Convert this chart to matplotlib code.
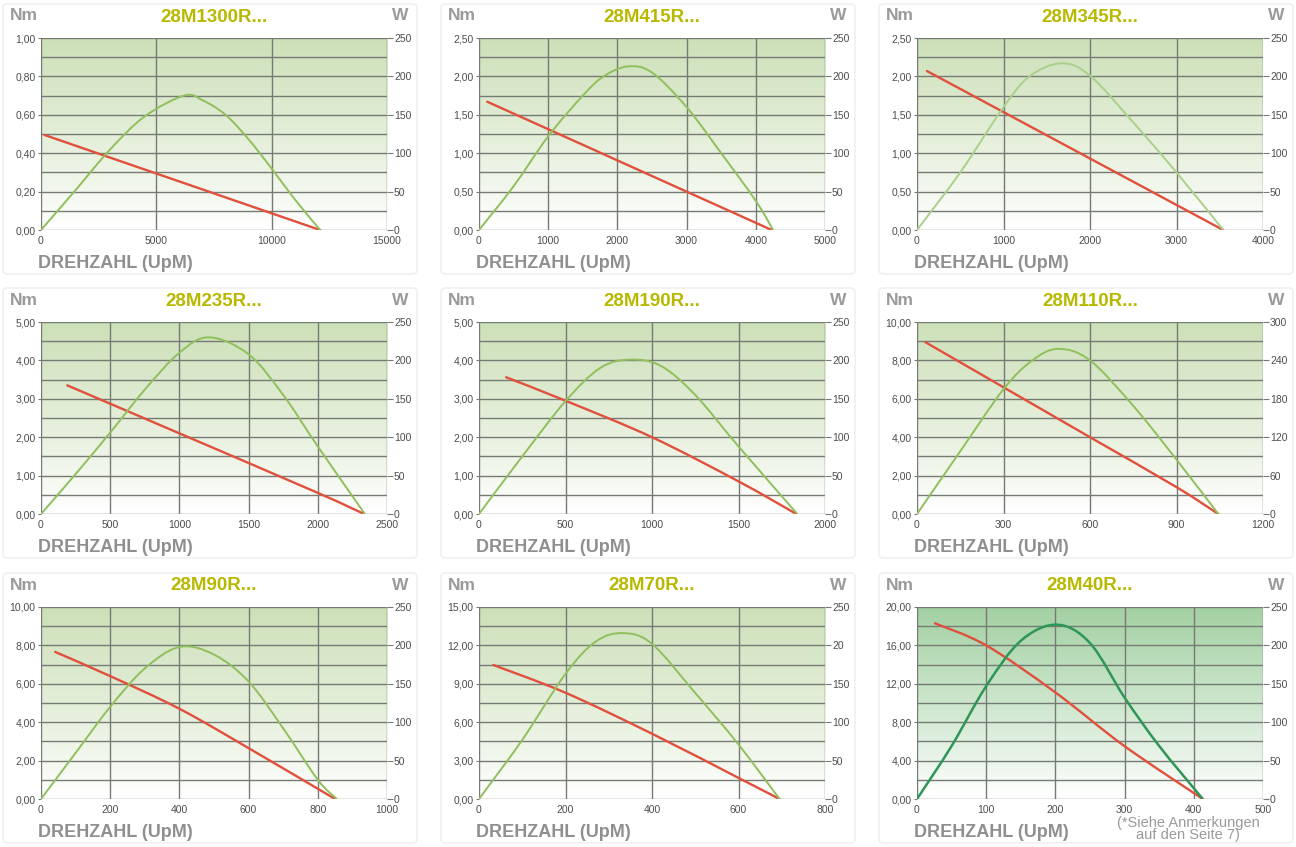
import numpy as np
import matplotlib
matplotlib.use("Agg")
import matplotlib.pyplot as plt
from matplotlib.patches import FancyBboxPatch, PathPatch
from matplotlib.path import Path
from matplotlib.colors import to_rgb

plt.rcParams['font.family'] = ['Liberation Sans', 'DejaVu Sans']

# ---------------- data ----------------
titles = ["28M1300R...", "28M415R...", "28M345R...",
          "28M235R...", "28M190R...", "28M110R...",
          "28M90R...", "28M70R...", "28M40R..."]

# x axis (rpm) limits and tick steps
x_max = [15000, 5000, 4000, 2500, 2000, 1200, 1000, 800, 500]
x_step = [5000, 1000, 1000, 500, 500, 300, 200, 200, 100]
# torque axis (Nm)
nm_max = [1.0, 2.5, 2.5, 5.0, 5.0, 10.0, 10.0, 15.0, 20.0]
nm_step = [0.2, 0.5, 0.5, 1.0, 1.0, 2.0, 2.0, 3.0, 4.0]
# power axis (W)
w_max = [250, 250, 250, 250, 250, 300, 250, 250, 250]
w_step = [50, 50, 50, 50, 50, 60, 50, 50, 50]
# right tick labels for 28M70R as printed in the source (note "20")
m70_w_labels = ["0", "50", "100", "150", "20", "250"]

# torque curves (rpm, Nm)
m1300_t_rpm = [150, 12100]
m1300_t_nm = [0.495, 0.0]
m415_t_rpm = [120, 4230]
m415_t_nm = [1.67, 0.0]
m345_t_rpm = [115, 3540]
m345_t_nm = [2.07, 0.0]
m235_t_rpm = [190, 1000, 2000, 2335]
m235_t_nm = [3.35, 2.10, 0.55, 0.0]
m190_t_rpm = [157, 500, 1000, 1500, 1835]
m190_t_nm = [3.56, 2.95, 2.00, 0.85, 0.0]
m110_t_rpm = [29, 300, 600, 900, 1045]
m110_t_nm = [8.95, 6.60, 4.00, 1.40, 0.0]
m90_t_rpm = [41, 200, 400, 600, 850]
m90_t_nm = [7.66, 6.40, 4.70, 2.65, 0.0]
m70_t_rpm = [33, 200, 400, 600, 695]
m70_t_nm = [10.47, 8.30, 5.10, 1.65, 0.0]
m40_t_rpm = [26, 100, 200, 300, 413]
m40_t_nm = [18.3, 16.0, 11.1, 5.5, 0.0]

# power curves (rpm, W)
m1300_p_rpm = [0, 1500, 3000, 4500, 6200, 7000, 8000, 9000, 10000, 11000, 12100]
m1300_p_w = [0, 52, 105, 148, 175, 169, 150, 118, 80, 40, 0]
m415_p_rpm = [0, 500, 1000, 1500, 1800, 2150, 2500, 3000, 3500, 4000, 4250]
m415_p_w = [0, 57, 122, 175, 200, 213, 205, 160, 100, 38, 0]
m345_p_rpm = [0, 500, 1000, 1300, 1670, 2000, 2500, 3000, 3540]
m345_p_w = [0, 75, 160, 200, 217, 201, 140, 75, 0]
m235_p_rpm = [0, 250, 500, 750, 1000, 1215, 1500, 1750, 2000, 2340]
m235_p_w = [0, 52, 106, 162, 210, 230, 208, 155, 88, 0]
m190_p_rpm = [0, 250, 500, 700, 870, 1050, 1250, 1500, 1840]
m190_p_w = [0, 75, 147, 190, 201, 193, 155, 88, 0]
m110_p_rpm = [0, 150, 300, 400, 490, 600, 750, 900, 1045]
m110_p_w = [0, 98, 195, 240, 258, 240, 169, 85, 0]
m90_p_rpm = [0, 100, 200, 300, 401, 500, 600, 700, 800, 855]
m90_p_w = [0, 60, 120, 170, 198, 188, 153, 92, 25, 0]
m70_p_rpm = [0, 100, 200, 270, 333, 400, 500, 600, 695]
m70_p_w = [0, 77, 163, 205, 216, 202, 138, 71, 0]
m40_p_rpm = [0, 50, 100, 150, 202, 250, 300, 350, 413]
m40_p_w = [0, 69, 147, 206, 227, 203, 132, 69, 0]

torque_rpm = [m1300_t_rpm, m415_t_rpm, m345_t_rpm, m235_t_rpm, m190_t_rpm,
              m110_t_rpm, m90_t_rpm, m70_t_rpm, m40_t_rpm]
torque_nm = [m1300_t_nm, m415_t_nm, m345_t_nm, m235_t_nm, m190_t_nm,
             m110_t_nm, m90_t_nm, m70_t_nm, m40_t_nm]
power_rpm = [m1300_p_rpm, m415_p_rpm, m345_p_rpm, m235_p_rpm, m190_p_rpm,
             m110_p_rpm, m90_p_rpm, m70_p_rpm, m40_p_rpm]
power_w = [m1300_p_w, m415_p_w, m345_p_w, m235_p_w, m190_p_w,
           m110_p_w, m90_p_w, m70_p_w, m40_p_w]

# ---------------- styling ----------------
W_PX, H_PX = 1296, 847
col_left = [41, 479, 917]
row_top = [38, 322, 607]
ax_w, ax_h = 346, 192

green_line = ['#90bf5c'] * 9
green_line[2] = '#a9d08a'
green_line[8] = '#2e9656'
bg_top = ['#cce0b8'] * 9
bg_top[8] = '#a3d1a3'
red_line = '#e0503c'
grid_col = '#767a74'
tick_col = '#4d4d4d'
title_col = '#b9b800'
label_col = '#9a9a9a'

fig = plt.figure(figsize=(W_PX / 100, H_PX / 100), dpi=100)
fig.patch.set_facecolor('white')


def px_rect(l, t, w, h):
    return [l / W_PX, 1 - (t + h) / H_PX, w / W_PX, h / H_PX]


def nm_fmt(v):
    return f"{v:.2f}".replace('.', ',')


def smooth_path(xs, ys):
    """Smooth Bezier path through the given read points (Catmull-Rom style)."""
    p = np.column_stack([xs, ys]).astype(float)
    n = len(p)
    if n < 3:
        return Path(p)
    verts = [p[0]]
    codes = [Path.MOVETO]
    for k in range(n - 1):
        p0 = p[k - 1] if k > 0 else p[k]
        p1, p2 = p[k], p[k + 1]
        p3 = p[k + 2] if k + 2 < n else p[k + 1]
        c1 = p1 + (p2 - p0) / 6.0
        c2 = p2 - (p3 - p1) / 6.0
        verts += [c1, c2, p2]
        codes += [Path.CURVE4] * 3
    return Path(np.array(verts), codes)


# faint panel frames
for r in range(3):
    for c in range(3):
        l = col_left[c] - 38
        t = row_top[r] - 36
        box = FancyBboxPatch((l / W_PX, 1 - (t + 272) / H_PX), 414 / W_PX, 270 / H_PX,
                             boxstyle="round,pad=0,rounding_size=0.004",
                             transform=fig.transFigure, facecolor='none',
                             edgecolor='#f0f0f0', lw=1.2, zorder=0)
        fig.patches.append(box)

for i in range(9):
    r, c = divmod(i, 3)
    left, top = col_left[c], row_top[r]
    ax = fig.add_axes(px_rect(left, top, ax_w, ax_h))
    xm, ym, wm = x_max[i], nm_max[i], w_max[i]

    # gradient background
    n = 256
    frac = np.linspace(0, 1, n)[:, None]  # 0 bottom -> 1 top
    weight = np.clip((frac - 0.03) / 0.97, 0, 1) ** 0.85
    top_rgb = np.array(to_rgb(bg_top[i]))
    img = np.ones((n, 2, 3)) * (1 - weight[..., None]) + top_rgb * weight[..., None]
    ax.imshow(img, extent=[0, xm, 0, ym], origin='lower', aspect='auto', zorder=0)

    ax.set_xlim(0, xm)
    ax.set_ylim(0, ym)
    ax.set_xticks(np.arange(0, xm + 1e-9, x_step[i]))
    yt = np.arange(0, ym + 1e-9, nm_step[i])
    ax.set_yticks(yt)
    ax.set_yticklabels([nm_fmt(v) for v in yt])
    ax.set_yticks(np.arange(nm_step[i] / 2, ym, nm_step[i]), minor=True)
    ax.grid(axis='y', which='both', color=grid_col, lw=1.0, zorder=1)
    ax.grid(axis='x', which='major', color=grid_col, lw=1.0, zorder=1)
    for s in ax.spines.values():
        s.set_visible(False)
    ax.tick_params(axis='y', which='major', length=2, color=grid_col, labelsize=7.5,
                   labelcolor=tick_col, pad=2)
    ax.tick_params(axis='y', which='minor', length=0)
    ax.tick_params(axis='x', length=0, labelsize=7.5, labelcolor=tick_col, pad=4)
    ax.set_axisbelow(True)

    ax.add_patch(PathPatch(smooth_path(torque_rpm[i], torque_nm[i]), facecolor='none',
                           edgecolor=red_line, lw=1.7, zorder=4, capstyle='round'))

    ax2 = ax.twinx()
    ax2.set_ylim(0, wm)
    ax2.set_xlim(0, xm)
    wt = np.arange(0, wm + 1e-9, w_step[i])
    ax2.set_yticks(wt)
    if i == 7:
        ax2.set_yticklabels(m70_w_labels)
    else:
        ax2.set_yticklabels([f"{int(v)}" for v in wt])
    for s in ax2.spines.values():
        s.set_visible(False)
    ax2.tick_params(axis='y', length=4, color=grid_col, labelsize=7.5,
                    labelcolor=tick_col, pad=1)
    ax2.add_patch(PathPatch(smooth_path(power_rpm[i], power_w[i]), facecolor='none',
                            edgecolor=green_line[i], lw=1.8 if i == 8 else 1.4,
                            zorder=3))

    # texts
    cx = left + ax_w / 2
    fig.text(cx / W_PX, 1 - (top - 21) / H_PX, titles[i], ha='center', va='center',
             color=title_col, fontsize=13.5, fontweight='bold')
    fig.text((left - 17) / W_PX, 1 - (top - 22) / H_PX, "Nm", ha='center', va='center',
             color=label_col, fontsize=12.5, fontweight='bold')
    fig.text((left + ax_w + 13) / W_PX, 1 - (top - 22) / H_PX, "W", ha='center',
             va='center', color=label_col, fontsize=12.5, fontweight='bold')
    fig.text((left - 3) / W_PX, 1 - (top + ax_h + 33) / H_PX, "DREHZAHL (UpM)",
             ha='left', va='center', color='#8f8f8f', fontsize=13, fontweight='bold')

fig.text(1188 / W_PX, 1 - 829 / H_PX, "(*Siehe Anmerkungen\nauf den Seite 7)",
         ha='center', va='center', color='#9a9a9a', fontsize=10.5, linespacing=0.9)

fig.savefig("out.png", dpi=100, facecolor='white')
